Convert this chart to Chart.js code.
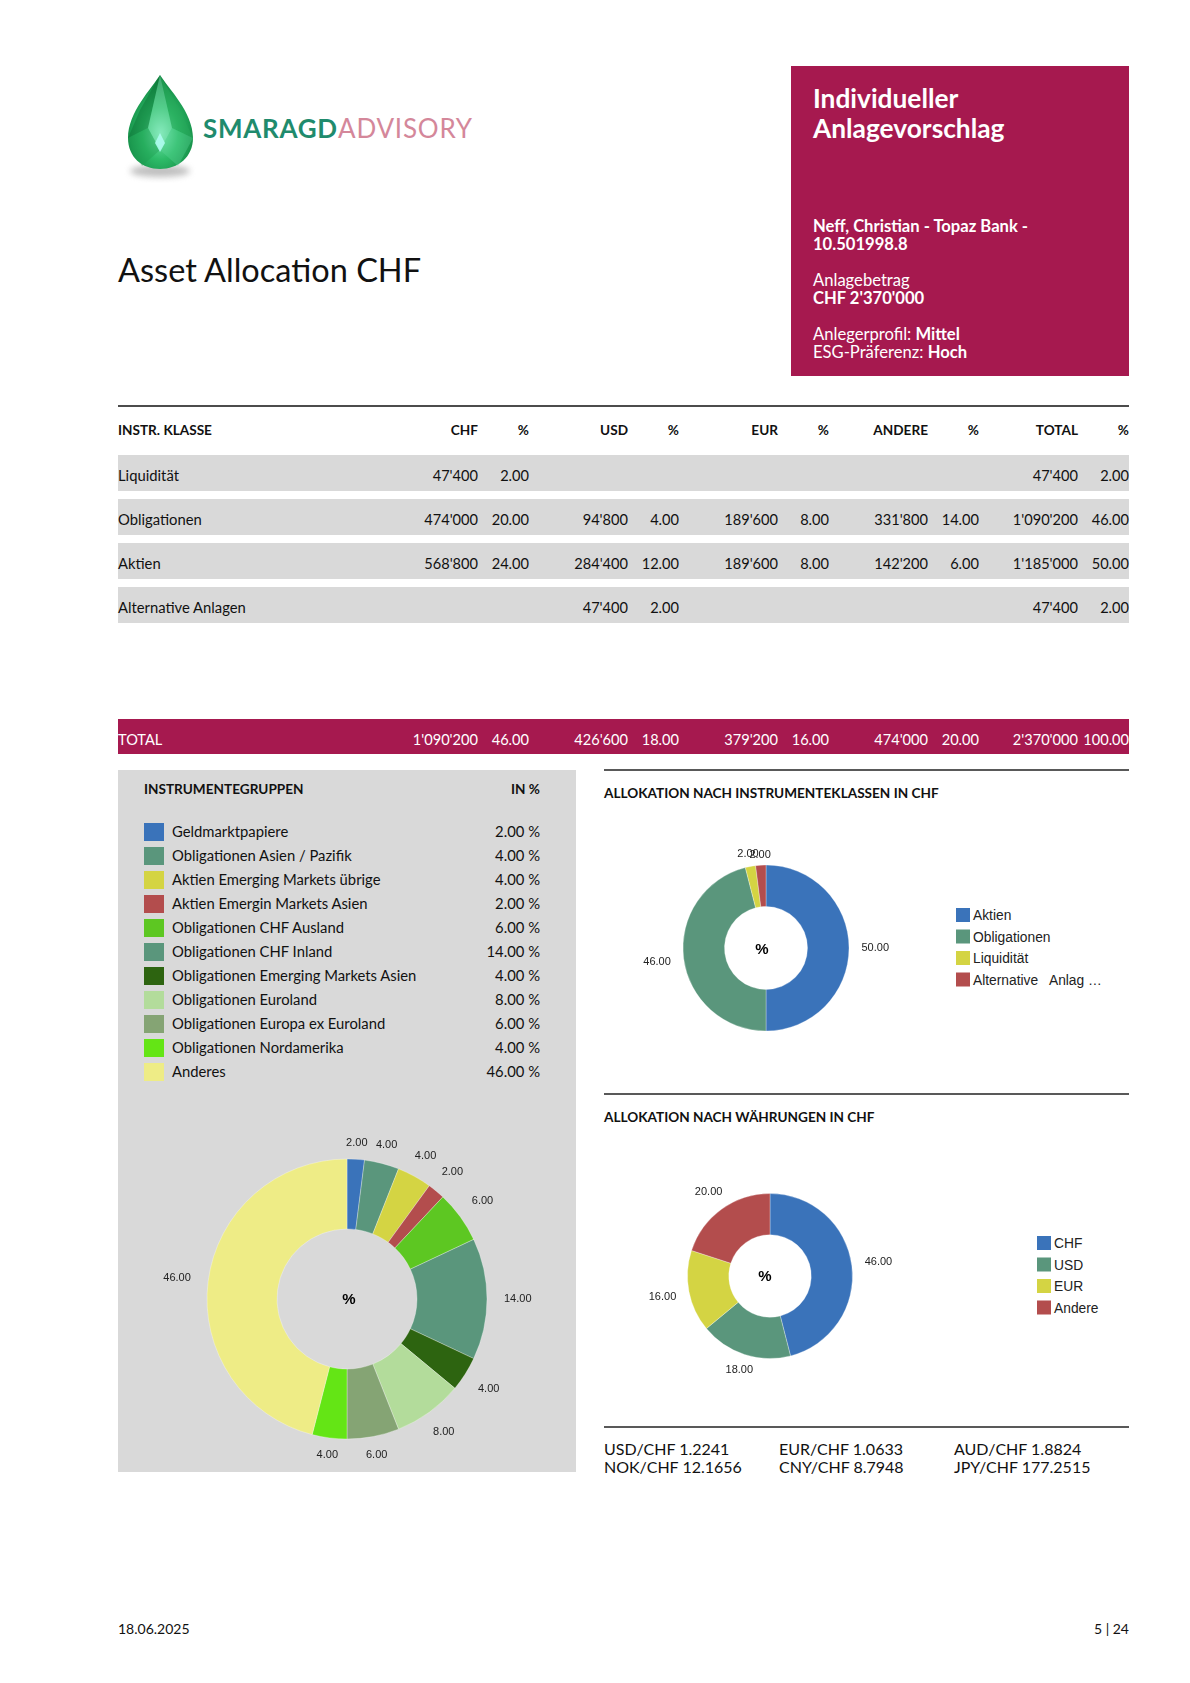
<!DOCTYPE html>
<html><head><meta charset="utf-8">
<script src="https://cdn.jsdelivr.net/npm/chart.js@4.4.1/dist/chart.umd.min.js"></script>
<style>
html,body{margin:0;padding:0;background:#fff;}
body{width:1190px;height:1683px;position:relative;overflow:hidden;}
#page{position:absolute;left:0;top:0;}
canvas{position:absolute;}
text{white-space:pre;}
</style></head><body>
<svg id="page" width="1190" height="1683" xmlns="http://www.w3.org/2000/svg">
<defs>
<radialGradient id="gemG" cx="0.5" cy="0.62" r="0.62"><stop offset="0" stop-color="#7ae6b4"/><stop offset="0.45" stop-color="#2dbb68"/><stop offset="1" stop-color="#0d7e3c"/></radialGradient>
<filter id="blur" x="-50%" y="-50%" width="200%" height="200%"><feGaussianBlur stdDeviation="3"/></filter>
</defs>
<ellipse cx="160" cy="171" rx="30" ry="6" fill="#8a8a8a" opacity="0.55" filter="url(#blur)"/>
<path d="M160,75 C152,88 128,112 128,138 C128,157 142,169 160,169 C178,169 193,157 193,138 C193,112 168,88 160,75Z" fill="url(#gemG)"/>
<polygon points="160,75 140,110 128,138 148,128" fill="#0c6e34" opacity="0.45"/>
<polygon points="160,75 180,110 193,138 172,128" fill="#27a85a" opacity="0.5"/>
<polygon points="160,75 148,128 160,150 172,128" fill="#9af2cc" opacity="0.35"/>
<polygon points="128,138 148,128 160,150 142,166" fill="#1d9a4f" opacity="0.4"/>
<polygon points="193,138 172,128 160,150 178,166" fill="#5fd79a" opacity="0.35"/>
<polygon points="160,133 155,143 160,152 165,143" fill="#aefcf0" opacity="0.9"/>
</svg>
<canvas id="cGroups" width="420" height="420" style="left:137px;top:1089px"></canvas>
<canvas id="cClasses" width="260" height="260" style="left:636px;top:818px"></canvas>
<canvas id="cCurrency" width="260" height="260" style="left:640px;top:1146px"></canvas>
<script>
// ---------- DATA ----------
const assetClasses = ['Liquidität', 'Obligationen', 'Aktien', 'Alternative Anlagen'];
const chfAmount    = [47400, 474000, 568800, null];
const chfPercent   = [2, 20, 24, null];
const usdAmount    = [null, 94800, 284400, 47400];
const usdPercent   = [null, 4, 12, 2];
const eurAmount    = [null, 189600, 189600, null];
const eurPercent   = [null, 8, 8, null];
const otherAmount  = [null, 331800, 142200, null];
const otherPercent = [null, 14, 6, null];
const totalAmount  = [47400, 1090200, 1185000, 47400];
const totalPercent = [2, 46, 50, 2];
const columnHeaders = ['CHF', 'USD', 'EUR', 'ANDERE', 'TOTAL'];
const totalRowAmount  = [1090200, 426600, 379200, 474000, 2370000];
const totalRowPercent = [46, 18, 16, 20, 100];

const groupLabels = ['Geldmarktpapiere', 'Obligationen Asien / Pazifik', 'Aktien Emerging Markets übrige',
  'Aktien Emergin Markets Asien', 'Obligationen CHF Ausland', 'Obligationen CHF Inland',
  'Obligationen Emerging Markets Asien', 'Obligationen Euroland', 'Obligationen Europa ex Euroland',
  'Obligationen Nordamerika', 'Anderes'];
const groupValues = [2, 4, 4, 2, 6, 14, 4, 8, 6, 4, 46];
const groupColors = ['#3A73BA', '#5A967C', '#D4D443', '#B34D4D', '#5DC722', '#5A967C',
  '#2D6410', '#B3DC9B', '#85A474', '#64E515', '#EEEC86'];

const classLabels = ['Aktien', 'Obligationen', 'Liquidität', 'Alternative Anlagen'];
const classLegendText = ['Aktien', 'Obligationen', 'Liquidität', 'Alternative   Anlag …'];
const classValues = [50, 46, 2, 2];
const currencyLabels = ['CHF', 'USD', 'EUR', 'Andere'];
const currencyValues = [46, 18, 16, 20];
const fourColors = ['#3A73BA', '#5A967C', '#D4D443', '#B34D4D'];

const fxPairs  = ['USD/CHF', 'EUR/CHF', 'AUD/CHF', 'NOK/CHF', 'CNY/CHF', 'JPY/CHF'];
const fxValues = ['1.2241', '1.0633', '1.8824', '12.1656', '8.7948', '177.2515'];

// ---------- HELPERS ----------
const NS = 'http://www.w3.org/2000/svg';
const svg = document.getElementById('page');
function el(tag, attrs, parent) {
  const e = document.createElementNS(NS, tag);
  for (const k in attrs) e.setAttribute(k, attrs[k]);
  (parent || svg).appendChild(e); return e;
}
function txt(x, y, s, a) {
  const e = el('text', Object.assign({x: x, y: y, 'font-family': 'Lato', 'font-size': 15, fill: '#111'}, a || {}));
  e.textContent = s; return e;
}
function fmtAmt(n) { return n == null ? '' : String(n).replace(/\B(?=(\d{3})+(?!\d))/g, "'"); }
function fmtPct(n) { return n == null ? '' : n.toFixed(2); }
const MAG = '#A6194F';

// ---------- LOGO & TITLE ----------
txt(203, 138, 'SMARAGD', {'font-size': 26, 'font-weight': 'bold', fill: '#1F8B6D', textLength: 134, lengthAdjust: 'spacing'});
txt(338, 138, 'ADVISORY', {'font-size': 26, 'font-weight': 'normal', fill: '#D4879A', textLength: 134, lengthAdjust: 'spacing'});
txt(118, 282, 'Asset Allocation CHF', {'font-size': 32.5});

// ---------- MAGENTA BOX ----------
el('rect', {x: 791, y: 66, width: 338, height: 310, fill: MAG});
const W = {fill: '#fff'};
txt(813, 108, 'Individueller', Object.assign({'font-size': 26.3, 'font-weight': 'bold'}, W));
txt(813, 138, 'Anlagevorschlag', Object.assign({'font-size': 26.3, 'font-weight': 'bold'}, W));
txt(813, 232, 'Neff, Christian - Topaz Bank -', Object.assign({'font-size': 16.6, 'font-weight': 'bold'}, W));
txt(813, 250, '10.501998.8', Object.assign({'font-size': 16.6, 'font-weight': 'bold'}, W));
txt(813, 286, 'Anlagebetrag', Object.assign({'font-size': 16.6}, W));
txt(813, 304, "CHF 2'370'000", Object.assign({'font-size': 16.6, 'font-weight': 'bold'}, W));
let t1 = txt(813, 340, 'Anlegerprofil: ', Object.assign({'font-size': 16.6}, W));
let ts1 = el('tspan', {'font-weight': 'bold'}, t1); ts1.textContent = 'Mittel';
let t2 = txt(813, 358, 'ESG-Präferenz: ', Object.assign({'font-size': 16.6}, W));
let ts2 = el('tspan', {'font-weight': 'bold'}, t2); ts2.textContent = 'Hoch';

// ---------- TABLE ----------
const amtX = [478, 628, 778, 928, 1078];
const pctX = [529, 679, 829, 979, 1129];
el('line', {x1: 118, y1: 406, x2: 1129, y2: 406, stroke: '#111', 'stroke-width': 1.6});
txt(118, 435, 'INSTR. KLASSE', {'font-size': 13.6, 'font-weight': 'bold'});
columnHeaders.forEach((h, i) => {
  txt(amtX[i], 435, h, {'font-size': 13.6, 'font-weight': 'bold', 'text-anchor': 'end'});
  txt(pctX[i], 435, '%', {'font-size': 13.6, 'font-weight': 'bold', 'text-anchor': 'end'});
});
const amtCols = [chfAmount, usdAmount, eurAmount, otherAmount, totalAmount];
const pctCols = [chfPercent, usdPercent, eurPercent, otherPercent, totalPercent];
assetClasses.forEach((c, r) => {
  const top = 455 + 44 * r;
  el('rect', {x: 118, y: top, width: 1011, height: 36, fill: '#D9D9D9'});
  txt(118, top + 26, c, {'font-size': 14.8});
  amtCols.forEach((col, i) => {
    txt(amtX[i], top + 26, fmtAmt(col[r]), {'font-size': 14.6, 'text-anchor': 'end'});
    txt(pctX[i], top + 26, fmtPct(pctCols[i][r]), {'font-size': 14.6, 'text-anchor': 'end'});
  });
});
el('rect', {x: 118, y: 719, width: 1011, height: 35, fill: MAG});
txt(118, 745, 'TOTAL', {'font-size': 14.6, fill: '#fff'});
totalRowAmount.forEach((v, i) => {
  txt(amtX[i], 745, fmtAmt(v), {'font-size': 14.6, fill: '#fff', 'text-anchor': 'end'});
  txt(pctX[i], 745, fmtPct(totalRowPercent[i]), {'font-size': 14.6, fill: '#fff', 'text-anchor': 'end'});
});

// ---------- LEFT PANEL ----------
el('rect', {x: 118, y: 770, width: 458, height: 702, fill: '#D9D9D9'});
txt(144, 794, 'INSTRUMENTEGRUPPEN', {'font-size': 13.6, 'font-weight': 'bold'});
txt(540, 794, 'IN %', {'font-size': 13.6, 'font-weight': 'bold', 'text-anchor': 'end'});
groupLabels.forEach((g, i) => {
  el('rect', {x: 144, y: 823 + 24 * i, width: 20, height: 18, fill: groupColors[i]});
  txt(172, 837 + 24 * i, g, {'font-size': 14.8});
  txt(540, 837 + 24 * i, groupValues[i].toFixed(2) + ' %', {'font-size': 14.8, 'text-anchor': 'end'});
});

// ---------- RIGHT SECTIONS ----------
el('line', {x1: 604, y1: 770, x2: 1129, y2: 770, stroke: '#222', 'stroke-width': 1.3});
txt(604, 798, 'ALLOKATION NACH INSTRUMENTEKLASSEN IN CHF', {'font-size': 13.6, 'font-weight': 'bold'});
el('line', {x1: 604, y1: 1094, x2: 1129, y2: 1094, stroke: '#222', 'stroke-width': 1.3});
txt(604, 1122, 'ALLOKATION NACH WÄHRUNGEN IN CHF', {'font-size': 13.6, 'font-weight': 'bold'});
function svgLegend(x, yc, labels, colors) {
  labels.forEach((l, i) => {
    const c = yc + 21.5 * i;
    el('rect', {x: x, y: c - 7, width: 14, height: 14, fill: colors[i]});
    txt(x + 17, c + 5, l, {'font-family': 'Liberation Sans, Arial', 'font-size': 13.8, fill: '#222'});
  });
}
svgLegend(956, 915, classLegendText, fourColors);
svgLegend(1037, 1243, currencyLabels, fourColors);

// FX
el('line', {x1: 604, y1: 1427, x2: 1129, y2: 1427, stroke: '#222', 'stroke-width': 1.3});
const fxX = [604, 779, 954];
fxPairs.forEach((p, i) => {
  txt(fxX[i % 3], i < 3 ? 1455 : 1473, p + ' ' + fxValues[i], {'font-size': 16});
});

// Footer
txt(118, 1634, '18.06.2025', {'font-size': 14});
txt(1129, 1634, '5 | 24', {'font-size': 14, 'text-anchor': 'end'});

// ---------- CHARTS ----------
const labelPlugin = {
  id: 'outLabels',
  afterDatasetsDraw(chart, args, opts) {
    const ctx = chart.ctx;
    const meta = chart.getDatasetMeta(0);
    const data = chart.data.datasets[0].data;
    ctx.save();
    ctx.font = opts.font; ctx.fillStyle = opts.color;
    ctx.textAlign = 'center'; ctx.textBaseline = 'middle';
    meta.data.forEach((arc, i) => {
      const p = arc.getProps(['x', 'y', 'startAngle', 'endAngle', 'outerRadius'], true);
      const mid = (p.startAngle + p.endAngle) / 2;
      const ux = Math.cos(mid), uy = Math.sin(mid);
      const s = Number(data[i]).toFixed(2);
      const w = ctx.measureText(s).width;
      const gap = opts.gapV + (opts.gapH - opts.gapV) * Math.abs(ux);
      const r = p.outerRadius + gap + (w / 2) * Math.abs(ux) + (opts.height / 2) * Math.abs(uy);
      ctx.fillText(s, p.x + ux * r, p.y + uy * r);
    });
    const c = meta.data[0].getProps(['x', 'y'], true);
    ctx.font = opts.centerFont; ctx.fillStyle = '#000';
    ctx.fillText('%', c.x + opts.cdx, c.y + opts.cdy);
    ctx.restore();
  }
};
function makeDonut(id, labels, values, colors, radius, gapV, gapH, cdx, cdy) {
  return new Chart(document.getElementById(id), {
    type: 'doughnut',
    data: {labels: labels, datasets: [{data: values, backgroundColor: colors, borderWidth: 0.6,
      borderColor: 'rgba(255,255,255,0.5)', hoverOffset: 0}]},
    options: {
      responsive: false, animation: false, events: [],
      radius: radius, cutout: '50%',
      plugins: {
        legend: {display: false}, tooltip: {enabled: false},
        outLabels: {font: '11px "Liberation Sans", Arial, sans-serif', color: '#222', gapV: gapV, gapH: gapH, height: 11,
          centerFont: 'bold 15px "Liberation Sans", Arial, sans-serif', cdx: cdx, cdy: cdy}
      }
    },
    plugins: [labelPlugin]
  });
}
makeDonut('cGroups', groupLabels, groupValues, groupColors, 140, 9.5, 17, 2, 1);
makeDonut('cClasses', classLabels, classValues, fourColors, 83, 4, 12.5, -4, 2);
makeDonut('cCurrency', currencyLabels, currencyValues, fourColors, 82.5, 5, 12.5, -5, 1);
</script>
</body></html>
